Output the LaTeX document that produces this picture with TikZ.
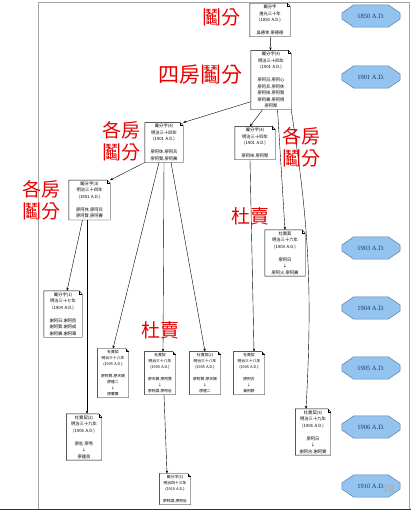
\documentclass[tikz,border=0pt]{standalone}
\usepackage{fontspec}
\setmainfont{Liberation Serif}
\newfontfamily\cjk{Noto Sans CJK TC}
\usetikzlibrary{arrows.meta,backgrounds}
\definecolor{labred}{HTML}{E60000}
\definecolor{erafill}{HTML}{93C3EF}
\definecolor{eraline}{HTML}{5A7FA8}
\definecolor{eratext}{HTML}{1F3864}
\definecolor{pagenum}{HTML}{C8A56A}
\tikzset{
  docbox/.style={inner sep=1.5pt, align=center, text width=#1,
    font=\cjk\fontsize{4.3}{6.5}\selectfont},
  docbox/.default=36pt,
  docsmall/.style={inner sep=1.5pt, align=center, text width=#1,
    font=\cjk\fontsize{3.8}{6}\selectfont},
  docsmall/.default=28pt,
  docline/.style={draw=black, line width=0.4pt},
  arr/.style={-{Stealth[length=3pt,width=2.4pt]}, line width=0.4pt},
  redlab/.style={text=labred, align=center, inner sep=0pt,
    font=\cjk\fontsize{19}{22}\selectfont},
  era/.style={minimum width=58pt, minimum height=22pt, inner sep=0pt,
    text=eratext, font=\fontsize{6.5}{7}\selectfont},
  eraoct/.style={fill=erafill, draw=eraline, line width=0.5pt}
}
\begin{document}
\begin{tikzpicture}[x=1pt,y=-1pt]
\useasboundingbox (0,0) rectangle (411,512);
% frame of the inserted picture
\draw[gray!70, line width=0.6pt] (38,2) -- (409,2) -- (409,509);
\draw[gray!70, line width=0.6pt] (38,2) -- (38,509);
\draw[black!80, line width=1.2pt] (0,509.5) -- (411,509.5);

% document boxes
\node[docbox=37pt] (A) at (270,20) {鬮分字\\道光三十年\\(1850 A.D.)\\\mbox{}\\吳德幸.廖德德};
\node[docbox=37pt] (B) at (271,80) {鬮分字(4)\\明治三十四年\\(1901 A.D.)\\\mbox{}\\廖阿日.廖阿心\\廖阿兵.廖阿休\\廖阿梓.廖阿賢\\廖阿壽.廖阿明\\廖阿聚};
\node[docbox=35pt] (C) at (164,142.5) {鬮分字(4)\\明治三十四年\\(1901 A.D.)\\\mbox{}\\廖阿休.廖阿兵\\廖阿賢.廖阿壽};
\node[docbox=37pt] (D) at (255,143) {鬮分字(4)\\明治三十四年\\(1901 A.D.)\\\mbox{}\\廖阿梓.廖阿聚};
\node[docbox=38pt] (E) at (89.5,200) {鬮分字(3)\\明治三十四年\\(1901 A.D.)\\\mbox{}\\廖阿休.廖阿兵\\廖阿賢.廖阿壽};
\node[docbox=37pt] (F) at (285,253) {杜賣契\\明治三十六年\\(1903 A.D.)\\\mbox{}\\廖阿日\\↓\\廖阿火.廖阿壽};
\node[docbox=35pt] (G) at (63,314) {鬮分字(1)\\明治三十七年\\(1904 A.D.)\\\mbox{}\\謝阿日.謝阿臣\\謝阿賢.謝阿成\\謝阿壽.謝阿華};
\node[docsmall] (H1) at (113,373) {杜賣契\\明治三十八年\\(1905 A.D.)\\\mbox{}\\廖阿賢.廖天錫\\廖連二\\↓\\廖慶壽};
\node[docsmall] (H2) at (160,373) {杜賣契\\明治三十八年\\(1905 A.D.)\\\mbox{}\\廖天錫.廖阿賢\\↓\\廖阿謀.廖阿壯};
\node[docsmall] (H3) at (205,373) {杜賣契(2)\\明治三十八年\\(1905 A.D.)\\\mbox{}\\廖阿賢.廖天錫\\↓\\廖連二};
\node[docsmall] (H4) at (249,373) {杜賣契\\明治三十八年\\(1905 A.D.)\\\mbox{}\\廖阿古\\↓\\黃阿耕};
\node[docbox=32pt] (I) at (84,437) {杜賣契(2)\\明治三十九年\\(1906 A.D.)\\\mbox{}\\廖壯.廖秀\\↓\\廖連良};
\node[docbox=32pt] (J) at (313,432) {杜賣契(3)\\明治三十九年\\(1906 A.D.)\\\mbox{}\\廖阿日\\↓\\謝阿古.謝阿實};
\node[docsmall] (K) at (175,489) {鬮分字(3)\\明治四十三年\\(1910 A.D.)\\\mbox{}\\廖阿謀.廖阿壯};

\foreach \n in {A,B,C,D,E,F,G,H1,H2,H3,H4,I,J,K}{
  \draw[docline] (\n.north west) -- ([xshift=-3pt]\n.north east)
     -- ([yshift=-3pt]\n.north east) -- (\n.south east)
     -- (\n.south west) -- cycle;
  \draw[docline] ([xshift=-3pt]\n.north east) |- ([yshift=-3pt]\n.north east);
}

% connectors
\draw[arr] (A) -- (B);
\draw[arr] ([yshift=8pt]B.south west) -- (C.north east);
\draw[arr] ([xshift=-8.5pt]B.south) -- ([xshift=-5pt]D.north);
\draw[arr] ([xshift=6.5pt]B.south) -- (F.north);
\draw[arr] (B.south east) to[bend left=6] ([xshift=-7pt]J.north);
\draw[arr] (C.south west) -- (E.north east);
\draw[arr] ([xshift=-5pt]C.south) -- (H1.north);
\draw[arr] (C.south) -- ([xshift=3pt]H2.north);
\draw[arr] ([xshift=7pt]C.south) -- (H3.north);
\draw[arr] ([xshift=-5pt]D.south) -- ([xshift=5pt]H4.north);
\draw[arr] ([xshift=-7pt]E.south) -- ([xshift=4pt]G.north);
\draw[arr] ([xshift=-2.5pt]E.south) -- ([xshift=3pt]I.north);
\draw[arr] ([xshift=4pt]H2.south) -- ([xshift=-8pt]K.north);

% timeline
\node[era] (t1850) at (371,16) {1850 A.D.};
\node[era] (t1901) at (371,77) {1901 A.D.};
\node[era] (t1903) at (371,248) {1903 A.D.};
\node[era] (t1904) at (371,308) {1904 A.D.};
\node[era] (t1905) at (371,368) {1905 A.D.};
\node[era] (t1906) at (371,427) {1906 A.D.};
\node[era] (t1910) at (371,486) {1910 A.D.};
\begin{scope}[on background layer]
\foreach \n in {t1850,t1901,t1903,t1904,t1905,t1906,t1910}{
  \draw[eraoct] ([yshift=3pt]\n.west) -- ([xshift=12pt]\n.north west)
    -- ([xshift=-12pt]\n.north east) -- ([yshift=3pt]\n.east)
    -- ([yshift=-3pt]\n.east) -- ([xshift=-12pt]\n.south east)
    -- ([xshift=12pt]\n.south west) -- ([yshift=-3pt]\n.west) -- cycle;
}
\end{scope}

% red labels
\node[redlab] (L1) at (221,17) {鬮分};
\node[redlab, font=\cjk\fontsize{21}{22}\selectfont] (L2) at (200,75) {四房鬮分};
\node[redlab] (L3) at (121,141) {各房\\鬮分};
\node[redlab] (L4) at (42,200) {各房\\鬮分};
\node[redlab] (L5) at (301,147) {各房\\鬮分};
\node[redlab] (L6) at (250,216) {杜賣};
\node[redlab] (L7) at (160,330) {杜賣};

\node[text=pagenum, font=\fontsize{11}{12}\selectfont\sffamily, inner sep=0pt] (pg) at (389,489) {78};
\end{tikzpicture}
\end{document}
